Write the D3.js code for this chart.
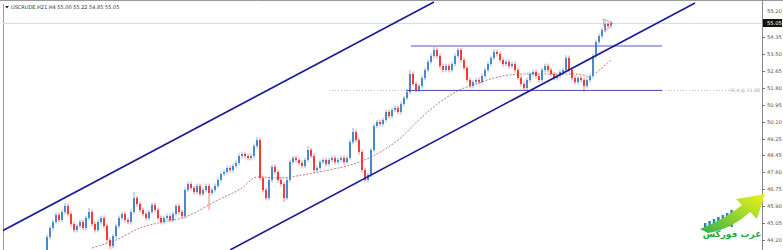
<!DOCTYPE html>
<html>
<head>
<meta charset="utf-8">
<script src="https://cdn.jsdelivr.net/npm/d3@7"></script>
<style>
  body { margin: 0; background: #fff; }
  svg { display: block; font-family: "DejaVu Sans", sans-serif; }
</style>
</head>
<body>
<div id="chart"></div>
<script>
// closes, one per H4 bar (opens follow the previous close)
var firstOpen = 43.70;
var closes = [
  44.35, 44.80, 45.10, 45.45, 45.20, 45.60, 45.90, 45.50, 45.00, 44.70,
  44.90, 45.10, 44.80, 45.30, 45.60, 45.00, 44.70, 45.10, 45.30, 44.90,
  44.20, 43.90, 44.40, 44.90, 45.30, 45.50, 45.20, 45.10, 45.60, 46.30,
  46.00, 45.70, 45.50, 45.30, 45.60, 45.95, 45.70, 45.30, 45.10, 45.30,
  45.40, 45.20, 45.50, 45.90, 45.60, 45.40, 46.70, 47.00, 46.80, 46.60,
  46.90, 46.50, 46.70, 46.90, 46.55, 46.70, 46.90, 47.20, 47.50, 47.60,
  47.80, 47.70, 47.90, 48.05, 48.40, 48.50, 48.40, 48.30, 48.40, 48.90,
  49.20, 47.30, 46.70, 46.30, 47.20, 47.85, 47.60, 47.20, 47.00, 46.30,
  47.20, 48.10, 48.30, 48.20, 48.05, 47.90, 48.20, 48.70, 48.40, 47.70,
  47.80, 48.10, 48.20, 48.00, 48.20, 48.30, 48.10, 48.20, 48.30, 48.10,
  48.30, 49.10, 49.60, 49.20, 48.60, 47.70, 47.20, 47.45, 48.70, 49.90,
  50.10, 50.00, 50.20, 50.60, 50.40, 50.70, 50.80, 50.60, 51.00, 51.30,
  51.60, 52.50, 52.00, 51.70, 51.90, 52.30, 52.70, 53.10, 53.40, 53.70,
  53.40, 52.90, 52.70, 52.90, 52.70, 53.00, 53.40, 53.70, 53.20, 52.80,
  52.20, 51.90, 52.10, 52.20, 52.10, 52.40, 52.70, 53.00, 53.30, 53.60,
  53.50, 53.20, 53.00, 53.10, 52.90, 53.00, 52.70, 52.30, 52.00, 51.80,
  52.20, 52.50, 52.60, 52.40, 52.20, 52.70, 52.90, 52.70, 52.50, 52.30,
  52.40, 52.60, 52.70, 53.30, 52.70, 52.30, 52.10, 52.30, 52.20, 51.90,
  52.20, 52.40, 53.40, 54.10, 54.40, 54.70, 55.00, 54.90, 55.05
];
// bars with a long shadow: [bar, price]
var spikeHighs = [[6, 46.05], [14, 45.80], [29, 46.60], [70, 49.35], [87, 48.90],
  [102, 49.80], [121, 52.70], [129, 53.85], [137, 53.80], [149, 53.75], [173, 53.45], [186, 55.25]];
var spikeLows = [[21, 43.75], [54, 45.70], [73, 46.20], [79, 46.10], [106, 47.10],
  [159, 51.65], [179, 51.60]];

// moving average read at a few bars
var maBars = [15, 23, 31, 37, 46, 57, 65, 70, 78, 85, 94, 101, 108, 117, 125, 131, 139, 143, 149, 154, 159, 170, 176, 181];
var maValues = [43.80, 44.20, 44.80, 45.05, 45.35, 46.20, 46.80, 47.35, 47.30, 47.45, 47.70, 47.95, 48.35, 49.20,
  50.35, 51.10, 51.80, 52.00, 52.30, 52.45, 52.50, 52.50, 52.50, 52.35];
var maBars2 = [183, 188];
var maValues2 = [52.55, 53.20];

// drawn objects, as [bar, price] end points
var upperChannel = [[-15, 44.65], [129, 56.10]];
var lowerChannel = [[61, 43.70], [216, 56.05]];
var resistance = [[121.3, 53.90], [205, 53.90]];
var support = [[119.7, 51.68], [205, 51.68]];
var fiboLevel = [[94, 51.68], [229, 51.68]];
var fiboLabel = "76.4 @ 51.68";
var arrowMark = [[185.3, 55.25], [188.7, 55.05], [186, 54.60]];

var tickLabels = ["55.20", "54.35", "53.50", "52.65", "51.80", "50.95", "50.10", "49.25",
  "48.45", "47.60", "46.75", "45.90", "45.05", "44.20"];
var lastPrice = 55.05;
var title = "USCRUDE,H21,H4  55.00 55.22 54.85 55.05";

var width = 783,
  height = 250,
  left = 3,
  axisX = 762,
  wick = 0.12,
  upColor = "#3c80c8",
  downColor = "#f52a2a",
  navy = "#1c1c96";

var x = d3.scaleLinear().domain([0, 188]).range([47, 611]),
  y = d3.scaleLinear().domain([56.20, 43.70]).range([0, 250]);

var svg = d3.select("#chart").append("svg")
  .attr("width", width)
  .attr("height", height);

svg.append("defs").append("clipPath").attr("id", "plot")
  .append("rect").attr("x", left).attr("y", 1).attr("width", axisX - left).attr("height", height);

// frame
svg.append("line").attr("x1", 0).attr("x2", width).attr("y1", 0.5).attr("y2", 0.5)
  .style("stroke", "#9a9a9a");
svg.append("line").attr("x1", left + 0.5).attr("x2", left + 0.5).attr("y1", 4).attr("y2", height)
  .style("stroke", "#9a9a9a");
svg.append("line").attr("x1", axisX + 0.5).attr("x2", axisX + 0.5).attr("y1", 0).attr("y2", height)
  .style("stroke", "#8a8a8a");

var plot = svg.append("g").attr("clip-path", "url(#plot)");

// current price line
plot.append("line")
  .attr("x1", left).attr("x2", axisX)
  .attr("y1", Math.round(y(lastPrice)) + 0.5).attr("y2", Math.round(y(lastPrice)) + 0.5)
  .style("stroke", "#c6e2ea");

// fibo dotted level
plot.append("line")
  .attr("x1", x(fiboLevel[0][0])).attr("x2", x(fiboLevel[1][0]))
  .attr("y1", y(fiboLevel[0][1])).attr("y2", y(fiboLevel[1][1]))
  .style("stroke", "#b8b8c8")
  .style("stroke-dasharray", "1,2");
svg.append("text")
  .attr("x", axisX - 2).attr("y", y(fiboLevel[1][1]) + 1.5)
  .attr("text-anchor", "end")
  .style("font-size", "4.6px")
  .style("fill", "#a8a8b0")
  .text(fiboLabel);

// moving average
var maLine = d3.line()
  .x(function(d) { return x(d[0]); })
  .y(function(d) { return y(d[1]); })
  .curve(d3.curveMonotoneX);

[[maBars, maValues], [maBars2, maValues2]].forEach(function(s) {
  plot.append("path")
    .attr("d", maLine(d3.zip(s[0], s[1])))
    .style("fill", "none")
    .style("stroke", "#b86a6a")
    .style("stroke-width", 0.9)
    .style("stroke-dasharray", "2,1.5");
});

// candles
var bars = closes.map(function(c, i) {
  var o = i === 0 ? firstOpen : closes[i - 1];
  return {
    i: i,
    open: o,
    close: c,
    high: Math.max(o, c) + wick,
    low: Math.min(o, c) - wick
  };
});
spikeHighs.forEach(function(s) { bars[s[0]].high = s[1]; });
spikeLows.forEach(function(s) { bars[s[0]].low = s[1]; });

var candle = plot.append("g").selectAll("g")
  .data(bars)
  .enter().append("g");

candle.append("line")
  .attr("x1", function(d) { return x(d.i); })
  .attr("x2", function(d) { return x(d.i); })
  .attr("y1", function(d) { return y(d.high); })
  .attr("y2", function(d) { return y(d.low); })
  .style("stroke", function(d) { return d.close >= d.open ? upColor : downColor; })
  .style("stroke-opacity", 0.6)
  .style("stroke-width", 1);

candle.append("rect")
  .attr("x", function(d) { return x(d.i) - 1; })
  .attr("width", 2)
  .attr("y", function(d) { return y(Math.max(d.open, d.close)); })
  .attr("height", function(d) { return Math.max(1, Math.abs(y(d.open) - y(d.close))); })
  .style("fill", function(d) { return d.close >= d.open ? upColor : downColor; })
  .style("fill-opacity", 0.9);

// trend lines
function seg(pts, color, w) {
  plot.append("line")
    .attr("x1", x(pts[0][0])).attr("y1", y(pts[0][1]))
    .attr("x2", x(pts[1][0])).attr("y2", y(pts[1][1]))
    .style("stroke", color)
    .style("stroke-width", w);
}
seg(resistance, "#5656c8", 1);
seg(support, "#4a4ab8", 1);
seg(upperChannel, navy, 1.6);
seg(lowerChannel, navy, 1.6);

// arrow mark on the last bars
plot.append("path")
  .attr("d", "M" + arrowMark.map(function(p) { return x(p[0]) + "," + y(p[1]); }).join("L") + "Z")
  .style("fill", "none")
  .style("stroke", "#ec8a9a")
  .style("stroke-width", 0.8);

// price axis
var boxY = y(lastPrice);
var ticks = svg.append("g").selectAll("g")
  .data(tickLabels)
  .enter().append("g");

ticks.append("line")
  .attr("x1", axisX).attr("x2", axisX + 3)
  .attr("y1", function(d) { return Math.round(y(+d)) + 0.5; })
  .attr("y2", function(d) { return Math.round(y(+d)) + 0.5; })
  .style("stroke", "#777");

ticks.append("text")
  .attr("x", axisX + 5)
  .attr("y", function(d) {
    var ty = y(+d);
    if (Math.abs(ty - boxY) < 8) ty = boxY - 12;
    return ty + 2;
  })
  .style("font-size", "5.2px")
  .style("fill", "#555")
  .text(function(d) { return d; });

svg.append("rect")
  .attr("x", axisX + 1).attr("y", boxY - 4)
  .attr("width", 19).attr("height", 8)
  .style("fill", "#111");
svg.append("text")
  .attr("x", axisX + 5).attr("y", boxY + 2)
  .style("font-size", "5.2px")
  .style("fill", "#fff")
  .text(lastPrice.toFixed(2));

// title
svg.append("path")
  .attr("d", "M5,6 L9,6 L7,8.5 Z")
  .style("fill", "#222");
svg.append("text")
  .attr("x", 11).attr("y", 8.5)
  .style("font-size", "5px")
  .style("fill", "#333")
  .text(title);

// logo
var logo = svg.append("g");
var defs = svg.select("defs");
var g1 = defs.append("linearGradient").attr("id", "barsGrad").attr("x1", "0").attr("x2", "1");
g1.append("stop").attr("offset", "0").attr("stop-color", "#2a68c0");
g1.append("stop").attr("offset", "1").attr("stop-color", "#2cc08a");
var g2 = defs.append("linearGradient").attr("id", "arrowGrad")
  .attr("x1", "0").attr("y1", "1").attr("x2", "1").attr("y2", "0");
g2.append("stop").attr("offset", "0").attr("stop-color", "#36b04a");
g2.append("stop").attr("offset", "0.6").attr("stop-color", "#a8dc2a");
g2.append("stop").attr("offset", "1").attr("stop-color", "#eef21c");

var logoBars = [4, 6, 8, 10, 12, 14, 17];
logo.selectAll("rect")
  .data(logoBars)
  .enter().append("rect")
  .attr("x", function(d, i) { return 704 + i * 4.4; })
  .attr("y", function(d) { return 227 - d; })
  .attr("width", 2.6)
  .attr("height", function(d) { return d; })
  .style("fill", "url(#barsGrad)");

logo.append("path")
  .attr("d", "M700,229 C718,222 732,213 742,205 L736,199 L765,194 L757,219 L750,212 C738,223 722,231 708,233 Z")
  .style("fill", "url(#arrowGrad)");

logo.append("text")
  .attr("x", 732).attr("y", 237)
  .attr("text-anchor", "middle")
  .style("font-size", "9px")
  .style("font-weight", "bold")
  .style("fill", "#26a84a")
  .text("عرب فوركس");
</script>
</body>
</html>
